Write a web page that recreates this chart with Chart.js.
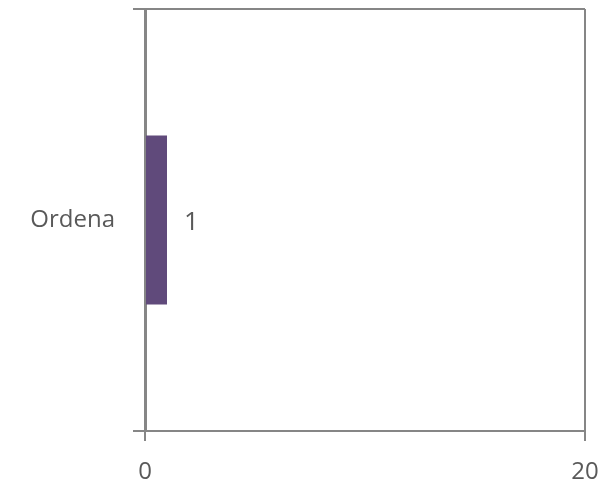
<!DOCTYPE html>
<html>
<head>
<meta charset="utf-8">
<script src="https://cdn.jsdelivr.net/npm/chart.js@4"></script>
<style>
  html, body { margin: 0; padding: 0; background: #fff; }
  #wrap { width: 604px; height: 487px; }
</style>
</head>
<body>
<div id="wrap"><canvas id="chart" width="604" height="487"></canvas></div>
<script>
const categories = ['Ordena'];
const values = [1];
const xTicks = [0, 20];

const textColor = '#595959';
const lineColor = '#868686';
const fontFamily = "'Open Sans', 'Liberation Sans', sans-serif";
const fontSize = 24;

// draw the value next to the end of the bar
const valueLabels = {
  id: 'valueLabels',
  afterDatasetsDraw(chart) {
    const ctx = chart.ctx;
    const meta = chart.getDatasetMeta(0);
    ctx.save();
    ctx.fillStyle = textColor;
    ctx.font = (fontSize + 2) + 'px ' + fontFamily;
    ctx.textAlign = 'left';
    ctx.textBaseline = 'middle';
    meta.data.forEach((bar, i) => {
      ctx.fillText(String(values[i]), bar.x + 17, bar.y + 3);
    });
    ctx.restore();
  }
};

new Chart(document.getElementById('chart').getContext('2d'), {
  type: 'bar',
  data: {
    labels: categories,
    datasets: [{
      data: values,
      backgroundColor: '#604a7b',
      categoryPercentage: 1,
      barPercentage: 0.4
    }]
  },
  options: {
    indexAxis: 'y',
    responsive: false,
    animation: false,
    layout: { padding: { left: 0, right: 19, top: 9, bottom: 0 } },
    plugins: {
      legend: { display: false },
      tooltip: { enabled: false }
    },
    scales: {
      x: {
        min: xTicks[0],
        max: xTicks[xTicks.length - 1],
        afterBuildTicks(scale) {
          scale.ticks = xTicks.map(v => ({ value: v }));
        },
        afterFit(scale) {
          scale.height = 56;
          scale.paddingLeft = 0;
          scale.paddingRight = 0;
        },
        grid: {
          color: lineColor,
          lineWidth: 2,
          tickLength: 10,
          drawOnChartArea: true
        },
        border: { color: lineColor, width: 2 },
        ticks: {
          color: textColor,
          padding: 17,
          font: { family: fontFamily, size: fontSize }
        }
      },
      y: {
        afterFit(scale) {
          scale.width = 145;
          scale.paddingTop = 0;
          scale.paddingBottom = 0;
        },
        grid: {
          offset: true,
          color: lineColor,
          lineWidth: 2,
          tickLength: 12,
          drawOnChartArea: true
        },
        border: { color: lineColor, width: 3 },
        ticks: {
          color: textColor,
          padding: 18,
          font: { family: fontFamily, size: fontSize }
        }
      }
    }
  },
  plugins: [valueLabels]
});
</script>
</body>
</html>
